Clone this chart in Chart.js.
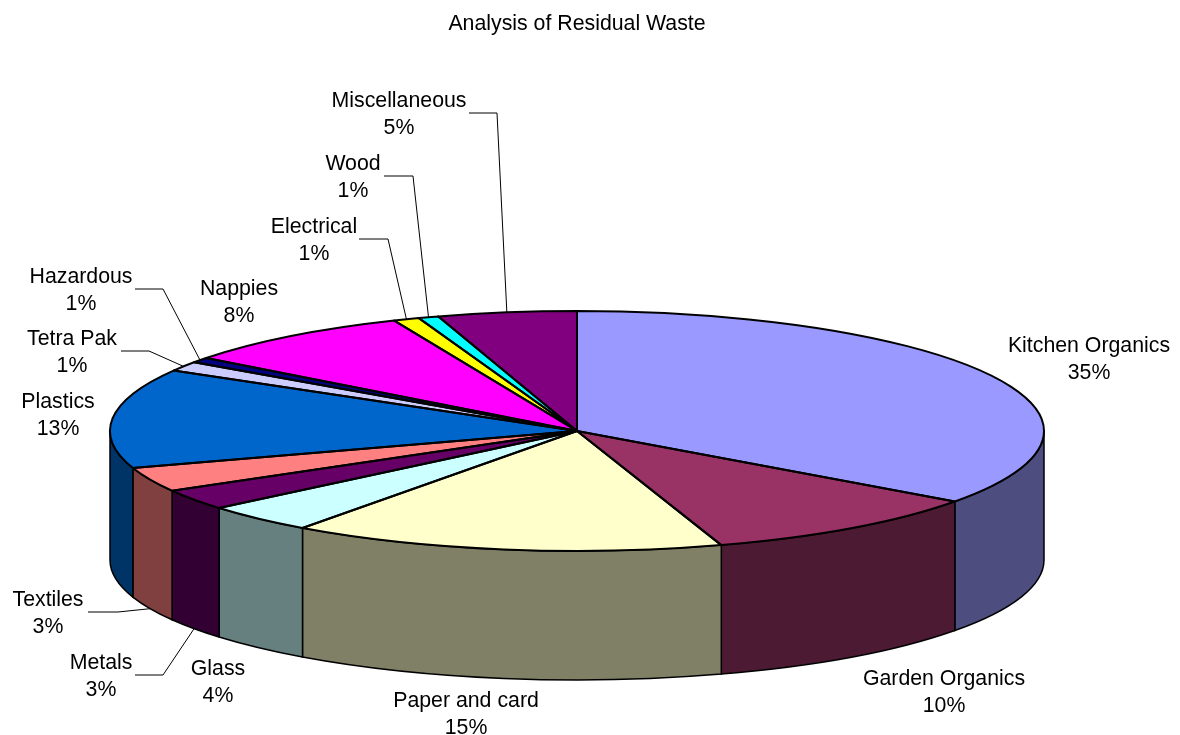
<!DOCTYPE html>
<html>
<head>
<meta charset="utf-8">
<title>Analysis of Residual Waste</title>
<script src="https://cdn.jsdelivr.net/npm/chart.js@4"></script>
<style>
html, body { margin: 0; padding: 0; background: #fff; }
canvas { display: block; }
</style>
</head>
<body>
<canvas id="waste" width="1180" height="735"></canvas>
<script>
// values (slice angles), labels are rounded from these
const categories = ['Kitchen Organics', 'Garden Organics', 'Paper and card', 'Glass', 'Metals', 'Textiles',
    'Plastics', 'Tetra Pak', 'Hazardous', 'Nappies', 'Electrical', 'Wood', 'Miscellaneous'];
const wasteShare = [35, 10, 15, 3.9, 2.8, 3.3, 13.4, 1.3, 0.7, 8.2, 0.9, 0.7, 4.8];
const sliceColors = ['#9999FF', '#993366', '#FFFFCC', '#CCFFFF', '#660066', '#FF8080',
    '#0066CC', '#CCCCFF', '#000080', '#FF00FF', '#FFFF00', '#00FFFF', '#800080'];

// label centre x, first line y, and leader line start / elbow x + y (only where there is a leader)
const labelSpots = [
    { x: 1089, y: 346 },
    { x: 944, y: 679 },
    { x: 466, y: 701 },
    { x: 218, y: 669 },
    { x: 101, y: 663, from: 135, elbow: 163, lineY: 675, wall: true },
    { x: 48, y: 600, from: 88, elbow: 118, lineY: 612, wall: true },
    { x: 58, y: 402 },
    { x: 72, y: 339, from: 121, elbow: 149, lineY: 351 },
    { x: 81, y: 277, from: 135, elbow: 163, lineY: 289 },
    { x: 239, y: 289 },
    { x: 314, y: 227, from: 359, elbow: 388, lineY: 239 },
    { x: 353, y: 164, from: 384, elbow: 413, lineY: 176 },
    { x: 399, y: 101, from: 469, elbow: 497, lineY: 113 }
];

const RX = 467, RY = 120, DEPTH = 129;
const FONT = '21.3px "Liberation Sans", Arial, sans-serif';

function darker(hex) {
    const n = parseInt(hex.slice(1), 16);
    return 'rgb(' + Math.round((n >> 16) / 2) + ',' + Math.round(((n >> 8) & 255) / 2) + ',' + Math.round((n & 255) / 2) + ')';
}

// squashes the pie into an ellipse and gives it a side wall
const tiltedPie = {
    id: 'tiltedPie',
    beforeDatasetsDraw(chart) {
        const ctx = chart.ctx;
        const arcs = chart.getDatasetMeta(0).data;
        const cx = arcs[0].x, cy = arcs[0].y;
        // walls, front half only
        arcs.forEach((arc, i) => {
            const a1 = Math.max(arc.startAngle, 0);
            const a2 = Math.min(arc.endAngle, Math.PI);
            if (a1 >= a2) return;
            ctx.beginPath();
            ctx.ellipse(cx, cy, RX, RY, 0, a1, a2);
            ctx.ellipse(cx, cy + DEPTH, RX, RY, 0, a2, a1, true);
            ctx.closePath();
            ctx.fillStyle = darker(sliceColors[i]);
            ctx.fill();
            ctx.lineWidth = 1.5;
            ctx.strokeStyle = '#000';
            ctx.stroke();
        });
        ctx.save();
        const r = arcs[0].outerRadius;
        ctx.translate(cx, cy);
        ctx.scale(RX / r, RY / r);
        ctx.translate(-cx, -cy);
    },
    afterDatasetsDraw(chart) {
        const ctx = chart.ctx;
        ctx.restore();
        const arcs = chart.getDatasetMeta(0).data;
        const cx = arcs[0].x, cy = arcs[0].y;
        ctx.lineWidth = 2;
        ctx.strokeStyle = '#000';
        ctx.lineJoin = 'round';
        arcs.forEach(arc => {
            ctx.beginPath();
            ctx.moveTo(cx, cy);
            ctx.ellipse(cx, cy, RX, RY, 0, arc.startAngle, arc.endAngle);
            ctx.closePath();
            ctx.stroke();
        });
    },
    afterDraw(chart) {
        const ctx = chart.ctx;
        const arcs = chart.getDatasetMeta(0).data;
        const total = wasteShare.reduce((a, b) => a + b, 0);
        ctx.save();
        ctx.font = FONT;
        ctx.fillStyle = '#000';
        ctx.textAlign = 'center';
        ctx.textBaseline = 'middle';
        labelSpots.forEach((spot, i) => {
            ctx.fillText(categories[i], spot.x, spot.y);
            ctx.fillText(Math.round(wasteShare[i] / total * 100) + '%', spot.x, spot.y + 27);
            if (spot.from === undefined) return;
            const mid = (arcs[i].startAngle + arcs[i].endAngle) / 2;
            const endX = arcs[i].x + RX * Math.cos(mid);
            const endY = arcs[i].y + RY * Math.sin(mid) + (spot.wall ? DEPTH : 0);
            ctx.beginPath();
            ctx.moveTo(spot.from, spot.lineY);
            ctx.lineTo(spot.elbow, spot.lineY);
            ctx.lineTo(endX, endY);
            ctx.lineWidth = 1;
            ctx.strokeStyle = '#000';
            ctx.stroke();
        });
        ctx.restore();
    }
};

new Chart(document.getElementById('waste'), {
    type: 'pie',
    data: {
        labels: categories,
        datasets: [{
            data: wasteShare,
            backgroundColor: sliceColors,
            borderWidth: 0,
            clip: false
        }]
    },
    options: {
        responsive: false,
        animation: false,
        events: [],
        layout: { padding: { right: 26 } },
        plugins: {
            legend: { display: false },
            tooltip: { enabled: false },
            title: {
                display: true,
                text: 'Analysis of Residual Waste',
                color: '#000',
                font: { family: '"Liberation Sans", Arial, sans-serif', size: 21.3, weight: 'normal' },
                padding: { top: 11, bottom: 90.4 }
            }
        }
    },
    plugins: [tiltedPie]
});
</script>
</body>
</html>
